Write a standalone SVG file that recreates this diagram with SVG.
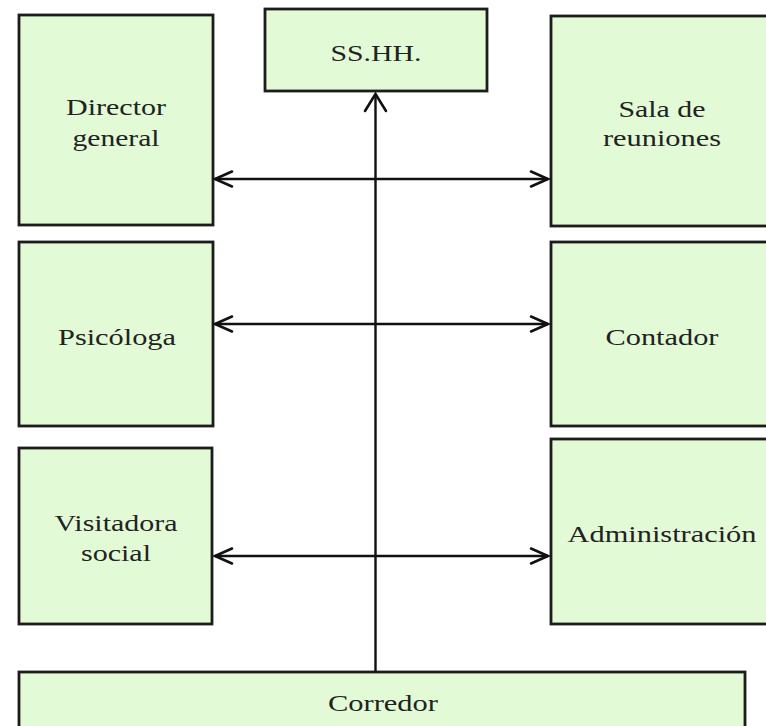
<svg xmlns="http://www.w3.org/2000/svg" width="766" height="726" viewBox="0 0 766 726">
<style>
.box{fill:#E3FAD6;stroke:#1c1c1c;stroke-width:2.8}
.lbl{font-family:"Liberation Serif","Times New Roman",serif;font-size:22.5px;fill:#222;text-anchor:middle}
.ln{fill:none;stroke:#111;stroke-width:2.4}
.hd{fill:none;stroke:#111;stroke-width:2.6;stroke-linecap:round;stroke-linejoin:miter}
</style>
<rect width="766" height="726" fill="#fff"/>
<g id="director">
<rect class="box" x="19" y="15" width="194" height="210"/>
<text class="lbl" x="116" y="115" textLength="100" lengthAdjust="spacingAndGlyphs">Director</text>
<text class="lbl" x="116" y="146" textLength="87" lengthAdjust="spacingAndGlyphs">general</text>
</g>
<g id="sshh">
<rect class="box" x="265" y="9" width="222" height="82"/>
<text class="lbl" x="376" y="61" textLength="91" lengthAdjust="spacingAndGlyphs">SS.HH.</text>
</g>
<g id="sala">
<rect class="box" x="551" y="16" width="225" height="210"/>
<text class="lbl" x="662" y="117" textLength="87" lengthAdjust="spacingAndGlyphs">Sala de</text>
<text class="lbl" x="662" y="146" textLength="118" lengthAdjust="spacingAndGlyphs">reuniones</text>
</g>
<g id="psicologa">
<rect class="box" x="19" y="242" width="194" height="184"/>
<text class="lbl" x="117" y="345" textLength="118" lengthAdjust="spacingAndGlyphs">Psicóloga</text>
</g>
<g id="contador">
<rect class="box" x="551" y="242" width="225" height="184"/>
<text class="lbl" x="662" y="345" textLength="113" lengthAdjust="spacingAndGlyphs">Contador</text>
</g>
<g id="visitadora">
<rect class="box" x="19" y="448" width="193" height="176"/>
<text class="lbl" x="116" y="531" textLength="123" lengthAdjust="spacingAndGlyphs">Visitadora</text>
<text class="lbl" x="116" y="561" textLength="70" lengthAdjust="spacingAndGlyphs">social</text>
</g>
<g id="administracion">
<rect class="box" x="551" y="439" width="225" height="185"/>
<text class="lbl" x="662" y="542" textLength="189" lengthAdjust="spacingAndGlyphs">Administración</text>
</g>
<g id="corredor">
<rect class="box" x="19" y="672" width="726" height="70"/>
<text class="lbl" x="383" y="711" textLength="110" lengthAdjust="spacingAndGlyphs">Corredor</text>
</g>
<g id="connectors">
<line class="ln" x1="375.5" y1="672" x2="375.5" y2="94"/>
<path class="hd" d="M365 111 L375.5 94 L386 111"/>
<line class="ln" x1="215" y1="179" x2="548" y2="179"/>
<path class="hd" d="M232 171.5 L215 179 L232 186.5"/>
<path class="hd" d="M531 171.5 L548 179 L531 186.5"/>
<line class="ln" x1="215" y1="324" x2="548" y2="324"/>
<path class="hd" d="M232 316.5 L215 324 L232 331.5"/>
<path class="hd" d="M531 316.5 L548 324 L531 331.5"/>
<line class="ln" x1="215" y1="556" x2="548" y2="556"/>
<path class="hd" d="M232 548.5 L215 556 L232 563.5"/>
<path class="hd" d="M531 548.5 L548 556 L531 563.5"/>
</g>
</svg>
